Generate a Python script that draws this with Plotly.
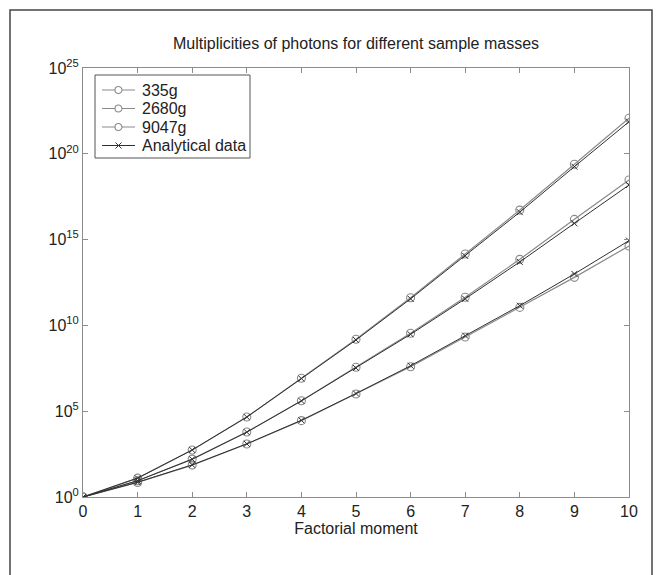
import numpy as np
import plotly.graph_objects as go

# Factorial moment (x axis)
moments = [0, 1, 2, 3, 4, 5, 6, 7, 8, 9, 10]

# log10 of multiplicities
log_335g = [0, 0.85, 1.86, 3.09, 4.45, 6.00, 7.59, 9.32, 11.05, 12.80, 14.63]
log_2680g = [0, 0.95, 2.21, 3.79, 5.61, 7.56, 9.54, 11.64, 13.85, 16.18, 18.47]
log_9047g = [0, 1.10, 2.74, 4.66, 6.92, 9.19, 11.61, 14.16, 16.72, 19.39, 22.07]

log_analytical_335g = [0, 0.86, 1.87, 3.10, 4.47, 6.03, 7.65, 9.40, 11.15, 13.00, 14.94]
log_analytical_2680g = [0, 0.95, 2.20, 3.78, 5.60, 7.52, 9.48, 11.55, 13.70, 15.95, 18.18]
log_analytical_9047g = [0, 1.10, 2.74, 4.66, 6.90, 9.15, 11.55, 14.05, 16.60, 19.25, 21.87]

series_names = ["335g", "2680g", "9047g"]
analytical_name = "Analytical data"
exp_series = [log_335g, log_2680g, log_9047g]
ana_series = [log_analytical_335g, log_analytical_2680g, log_analytical_9047g]

ytick_exps = [0, 5, 10, 15, 20, 25]
xtick_vals = [0, 1, 2, 3, 4, 5, 6, 7, 8, 9, 10]

FONT = "Liberation Sans, Arial, sans-serif"
TXT = "#222222"
EXP_COLOR = "#8a8a8a"
ANA_COLOR = "#303030"

fig = go.Figure()

for name, ys in zip(series_names, exp_series):
    fig.add_trace(go.Scatter(
        x=moments, y=np.power(10.0, ys), name=name, mode="lines+markers",
        line=dict(color=EXP_COLOR, width=1.2),
        marker=dict(symbol="circle-open", size=8, color=EXP_COLOR, line=dict(width=1.1)),
        showlegend=False,
    ))

for ys in ana_series:
    fig.add_trace(go.Scatter(
        x=moments, y=np.power(10.0, ys), name=analytical_name, mode="lines+markers",
        line=dict(color=ANA_COLOR, width=1),
        marker=dict(symbol="x-thin-open", size=6, color=ANA_COLOR, line=dict(width=1, color=ANA_COLOR)),
        showlegend=False,
    ))

axis_common = dict(
    showline=True, linecolor="#8c8c8c", linewidth=1, mirror="ticks",
    ticks="inside", ticklen=5, tickcolor="#8c8c8c", showgrid=False, zeroline=False,
    tickfont=dict(family=FONT, size=16, color=TXT),
)

fig.update_xaxes(range=[0, 10], tickvals=xtick_vals,
                 title=dict(text="Factorial moment", font=dict(family=FONT, size=16, color=TXT), standoff=0),
                 **axis_common)
fig.update_yaxes(type="log", range=[0, 25],
                 tickvals=[10.0 ** e for e in ytick_exps],
                 ticktext=["10<sup>%d</sup>" % e for e in ytick_exps],
                 **axis_common)

# ---- manual legend (MATLAB-like compact box) in plot-area paper coordinates ----
PX_L, PX_T, PW, PH = 83, 68, 546, 429  # plot area on page


def px(X):
    return (X - PX_L) / PW


def py(Y):
    return (PX_T + PH - Y) / PH


shapes = [
    # outer frame around the figure
    dict(type="rect", xref="paper", yref="paper",
         x0=px(10), x1=px(652), y0=py(620), y1=py(10),
         line=dict(color="#444444", width=1.5), fillcolor="rgba(0,0,0,0)", layer="below"),
    # legend box
    dict(type="rect", xref="paper", yref="paper",
         x0=px(95), x1=px(250), y0=py(158), y1=py(75),
         line=dict(color="#555555", width=1), fillcolor="white", layer="above"),
]
annotations = []
legend_labels = series_names + [analytical_name]
legend_rows_y = [90, 108.5, 127, 145.5]
for k, (lab, Y) in enumerate(zip(legend_labels, legend_rows_y)):
    col = EXP_COLOR if k < 3 else ANA_COLOR
    shapes.append(dict(type="line", xref="paper", yref="paper",
                       x0=px(102), x1=px(135), y0=py(Y), y1=py(Y),
                       line=dict(color=col, width=1.2), layer="above"))
    if k < 3:
        shapes.append(dict(type="circle", xref="paper", yref="paper",
                           xsizemode="pixel", ysizemode="pixel",
                           xanchor=px(118.5), yanchor=py(Y),
                           x0=-3.5, x1=3.5, y0=-3.5, y1=3.5,
                           line=dict(color=col, width=1.1), fillcolor="white", layer="above"))
    else:
        for sgn in (1, -1):
            shapes.append(dict(type="line", xref="paper", yref="paper",
                               xsizemode="pixel", ysizemode="pixel",
                               xanchor=px(118.5), yanchor=py(Y),
                               x0=-3, x1=3, y0=-3 * sgn, y1=3 * sgn,
                               line=dict(color=col, width=1), layer="above"))
    annotations.append(dict(text=lab, xref="paper", yref="paper",
                            x=px(140), y=py(Y), xanchor="left", yanchor="middle",
                            showarrow=False, font=dict(family=FONT, size=16, color=TXT)))

fig.update_layout(
    width=661, height=575,
    margin=dict(l=75, r=40, t=60, b=86),
    paper_bgcolor="white", plot_bgcolor="white",
    font=dict(family=FONT, size=16, color=TXT),
    title=dict(text="Multiplicities of photons for different sample masses",
               x=348 / 661, xanchor="center", y=1 - 35 / 575, yanchor="middle",
               font=dict(family=FONT, size=16, color=TXT)),
    showlegend=False,
    shapes=shapes,
    annotations=annotations,
)

fig.write_html("out.html")
